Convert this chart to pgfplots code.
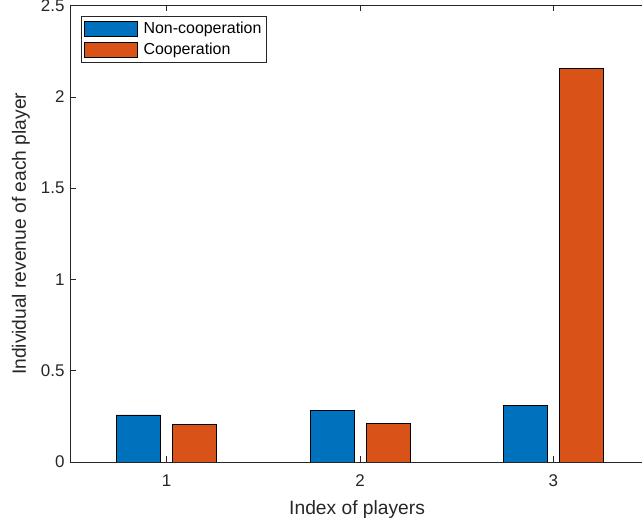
\documentclass[border=0pt]{standalone}
\usepackage{pgfplots}
\pgfplotsset{compat=1.18}
\usepackage{fontspec}
\setmainfont{Liberation Sans}
\definecolor{mblue}{rgb}{0,0.447,0.741}
\definecolor{morange}{rgb}{0.85,0.325,0.098}
\definecolor{axgray}{rgb}{0.15,0.15,0.15}
\begin{document}
\begin{tikzpicture}
\begin{axis}[
  scale only axis, width=580bp, height=456.25bp,
  xmin=0.5, xmax=3.5, ymin=0, ymax=2.5,
  xtick={1,2,3}, xticklabels={1,2,3},
  ytick={0,0.5,1,1.5,2,2.5}, yticklabels={0,0.5,1,1.5,2,2.5},
  tick align=inside, major tick length=5.5bp,
  xtick pos=both, ytick pos=left,
  axis line style={axgray, line width=0.8bp},
  tick style={axgray, line width=0.8bp},
  /pgf/number format/assume math mode=true,
  ticklabel style={font=\fontsize{17}{20}\selectfont, text=axgray},
  xticklabel style={yshift=-9bp},
  yticklabel style={xshift=-2bp},
  xlabel={Index of players},
  ylabel={Individual revenue of each player},
  label style={font=\fontsize{19.3}{22}\selectfont, text=axgray},
  xlabel style={at={(axis description cs:0.495,-0.1035)}, anchor=center},
  ylabel style={at={(axis description cs:-0.0845,0.5)}, anchor=center},
  legend cell align=left,
  legend style={at={(axis description cs:0.0185,0.978)}, anchor=north west,
    draw=axgray, line width=0.6bp, fill=white,
    font=\fontsize{16}{18}\selectfont, text=black,
    inner xsep=3bp, inner ysep=4bp, row sep=4bp,
    nodes={inner sep=2bp},
    /tikz/every odd column/.append style={column sep=4bp}},
  legend image code/.code={\draw[#1, line width=0.6bp] (0bp,-7.5bp) rectangle (53bp,7.5bp);},
]
\addplot[ybar, bar width=44bp, bar shift=-28bp, fill=mblue, draw=black, line width=0.6bp]
  coordinates {(1,0.258) (2,0.283) (3,0.311)};
\addlegendentry{Non-cooperation}
\addplot[ybar, bar width=44bp, bar shift=28bp, fill=morange, draw=black, line width=0.6bp]
  coordinates {(1,0.206) (2,0.210) (3,2.156)};
\addlegendentry{Cooperation}
\end{axis}
\pgfresetboundingbox
\path[use as bounding box] (-70bp,-63bp) rectangle (572bp,462bp);
\end{tikzpicture}
\end{document}
